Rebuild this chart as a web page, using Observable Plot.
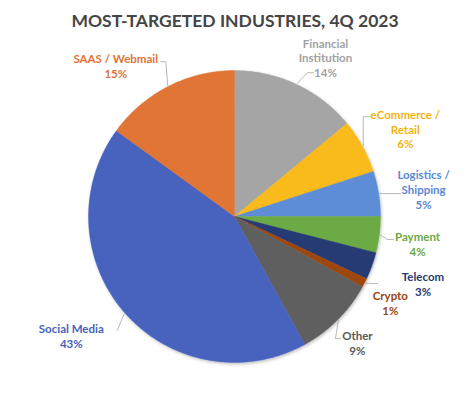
<!DOCTYPE html>
<html>
<head>
<meta charset="utf-8">
<script src="https://cdn.jsdelivr.net/npm/d3@7"></script>
<script src="https://cdn.jsdelivr.net/npm/@observablehq/plot@0.6"></script>
<style>
  html, body { margin: 0; padding: 0; background: #fff; }
  #wrap { width: 470px; height: 399px; overflow: hidden; }
  #title { height: 34px; line-height: 42px; text-align: center; font-family: Lato, "Open Sans", sans-serif; font-weight: 700; font-size: 17.5px; color: #454545; }
</style>
</head>
<body>
<div id="wrap">
  <div id="title"></div>
  <div id="chart"></div>
</div>
<script>
// ---- data ----
const titleText = "MOST-TARGETED INDUSTRIES, 4Q 2023";
const categories = ["Financial\nInstitution", "eCommerce /\nRetail", "Logistics /\nShipping", "Payment", "Telecom", "Crypto", "Other", "Social Media", "SAAS / Webmail"];
const shares = [14, 6, 5, 4, 3, 1, 9, 43, 15];
const sliceColors = ["#A5A5A5", "#F9BB1E", "#5B8DD6", "#6CAA45", "#263A73", "#9E4611", "#5E5E5E", "#4763BE", "#E07434"];
const labelColors = ["#A2A2A2", "#F5B310", "#5A8AD3", "#6AA843", "#2A3B70", "#9A4510", "#5A5A5A", "#4562BC", "#E07434"];

// ---- layout (style) ----
const W = 470, H = 365;
const cx = 234, cy = 182, R = 146;
const labelNudge = [4.6, 1.6, 0.9, 1.2, -0.3, 1.9, 0.7, 5.3, -11.2];
const labelRadius = [183, 192, 191, 185, 200, 178, 176, 202, 192];
const leaderPts = [
  [[-18, 15], [-12, 15]],
  [[-42, -12], [-35, -12]],
  [[-23, 4], [-23, 4]],
  [[-30, -4], [-24, -4]],
  null,
  [[-17, -19], [-13, -19]],
  [[-22, -4], [-17, -4]],
  [[46, -5], [46, -5]],
  [[50, -4], [45, -4]]
];

document.getElementById("title").textContent = titleText;

const total = d3.sum(shares);
const rad = d => d * Math.PI / 180;
const px = (a, r) => cx + r * Math.sin(rad(a));
const py = (a, r) => cy - r * Math.cos(rad(a));

let acc = 0;
const slices = categories.map((c, i) => {
  const a0 = acc / total * 360;
  acc += shares[i];
  const a1 = acc / total * 360;
  return {name: c, value: shares[i], a0, a1, mid: (a0 + a1) / 2, i};
});

const slicePts = slices.flatMap(s => {
  const pts = [{key: s.i, x: cx, y: cy}];
  const n = Math.max(2, Math.ceil((s.a1 - s.a0) / 0.5));
  for (let k = 0; k <= n; k++) {
    const a = s.a0 + (s.a1 - s.a0) * k / n;
    pts.push({key: s.i, x: px(a, R), y: py(a, R)});
  }
  pts.push({key: s.i, x: cx, y: cy});
  return pts;
});

const labels = slices.map(s => {
  const a = s.mid + labelNudge[s.i];
  const r = labelRadius[s.i];
  return {name: s.name, text: s.name + "\n" + s.value + "%", x: px(a, r), y: py(a, r), color: labelColors[s.i]};
});

const leaders = slices.flatMap(s => {
  const lp = leaderPts[s.i];
  if (!lp) return [];
  const L = labels[s.i];
  return [
    {name: s.name, x: px(s.mid, R + 1), y: py(s.mid, R + 1)},
    {name: s.name, x: L.x + lp[0][0], y: L.y + lp[0][1]},
    {name: s.name, x: L.x + lp[1][0], y: L.y + lp[1][1]}
  ];
});

let chart;
try {
  chart = Plot.plot({
    width: W,
    height: H,
    margin: 0,
    x: {domain: [0, W], axis: null},
    y: {domain: [H, 0], axis: null},
    color: {type: "ordinal", domain: d3.range(categories.length), range: sliceColors},
    style: {fontFamily: "Lato, 'Open Sans', sans-serif", background: "#fff"},
    marks: [
      Plot.line(slicePts, {x: "x", y: "y", z: "key", fill: "key", stroke: "key", strokeWidth: 0.4, curve: "linear"}),
      Plot.line(leaders, {x: "x", y: "y", z: "name", stroke: "#a6a6a6", strokeWidth: 0.8, curve: "linear"}),
      Plot.text(labels, {x: "x", y: "y", text: "text", fill: "color", fontSize: 11.5, fontWeight: 700, lineHeight: 1.3, textAnchor: "middle"})
    ]
  });
  document.getElementById("chart").appendChild(chart);
  // subtle drop shadow under the pie, as in the reference
  const svg = d3.select(chart);
  const defs = svg.insert("defs", ":first-child");
  const f = defs.append("filter").attr("id", "pieShadow")
    .attr("filterUnits", "userSpaceOnUse").attr("x", 0).attr("y", 0).attr("width", W).attr("height", H);
  f.append("feDropShadow").attr("dx", 1).attr("dy", 1.5).attr("stdDeviation", 1.5)
    .attr("flood-color", "#000").attr("flood-opacity", 0.25);
  svg.select("g[aria-label='line']").attr("filter", "url(#pieShadow)");
} catch (e) {
  document.getElementById("chart").textContent = "ERR " + e.message;
}
</script>
</body>
</html>
